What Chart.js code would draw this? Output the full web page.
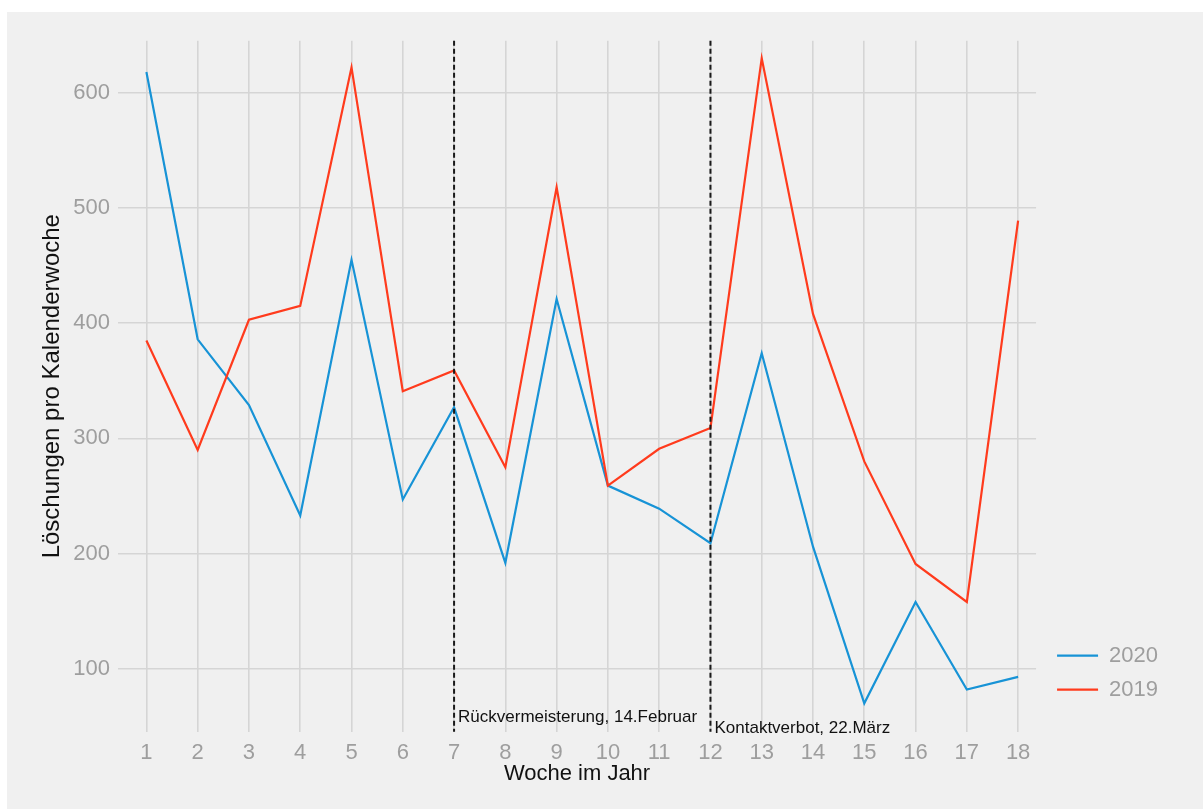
<!DOCTYPE html>
<html>
<head>
<meta charset="utf-8">
<script src="https://cdn.jsdelivr.net/npm/chart.js@4.4.1/dist/chart.umd.min.js"></script>
<style>
  html, body { margin: 0; padding: 0; background: #fff; }
  #panel { position: absolute; left: 7px; top: 12px; width: 1196px; height: 797px; background: #f0f0f0; }
  canvas { display: block; }
</style>
</head>
<body>
<div id="panel"><canvas id="chart" width="1196" height="797"></canvas></div>
<script>
// ── data ──────────────────────────────────────────────
const weeks = [1, 2, 3, 4, 5, 6, 7, 8, 9, 10, 11, 12, 13, 14, 15, 16, 17, 18];
const deletions2020 = [618, 386, 329, 233, 455, 247, 327, 192, 421, 259, 239, 209, 374, 206, 70, 158, 82, 93];
const deletions2019 = [385, 290, 403, 415, 622, 341, 359, 275, 518, 259, 291, 309, 630, 408, 280, 191, 158, 489];
const yTicks = [100, 200, 300, 400, 500, 600];

const markerWeeks = [7, 12];
const markerLabels = ["Rückvermeisterung, 14.Februar", "Kontaktverbot, 22.März"];
const markerLabelY = [54, 44];

const FONT = "'Liberation Sans', Arial, sans-serif";
const TICK_GREY = "#9e9e9e";
const GRID = "#d5d5d5";

// dashed event markers + their captions
const markerPlugin = {
  id: "markers",
  afterDatasetsDraw(chart) {
    const { ctx, chartArea, scales } = chart;
    ctx.save();
    ctx.strokeStyle = "#1a1a1a";
    ctx.lineWidth = 2;
    ctx.setLineDash([5, 3]);
    markerWeeks.forEach((w) => {
      const x = scales.x.getPixelForValue(w);
      ctx.beginPath();
      ctx.moveTo(x, chartArea.top);
      ctx.lineTo(x, chartArea.bottom);
      ctx.stroke();
    });
    ctx.setLineDash([]);
    ctx.fillStyle = "#111";
    ctx.font = "17px " + FONT;
    ctx.textAlign = "left";
    ctx.textBaseline = "alphabetic";
    markerWeeks.forEach((w, i) => {
      const x = scales.x.getPixelForValue(w) + 4;
      const y = scales.y.getPixelForValue(markerLabelY[i]);
      ctx.fillText(markerLabels[i], x, y);
    });
    ctx.restore();
  },
};

// push legend next to the panel, near its bottom (like ggplot)
const legendNudge = {
  id: "legendNudge",
  afterLayout(chart) {
    const lg = chart.legend;
    const dx = chart.chartArea.right + 9 - lg.left;
    lg.left += dx; lg.right += dx;
    lg.top -= 19; lg.bottom -= 19;
  },
};

new Chart(document.getElementById("chart"), {
  type: "line",
  data: {
    labels: weeks,
    datasets: [
      {
        label: "2020",
        data: deletions2020,
        borderColor: "#1793d6",
        backgroundColor: "#1793d6",
        borderWidth: 2.2,
        pointRadius: 0,
        tension: 0,
        order: 1,
      },
      {
        label: "2019",
        data: deletions2019,
        borderColor: "#ff3b1d",
        backgroundColor: "#ff3b1d",
        borderWidth: 2.2,
        pointRadius: 0,
        tension: 0,
        order: 0,
      },
    ],
  },
  options: {
    responsive: false,
    animation: false,
    devicePixelRatio: 1,
    layout: { padding: { top: 28.7, left: 0, right: 44, bottom: 0 } },
    plugins: {
      tooltip: { enabled: false },
      legend: {
        position: "right",
        align: "end",
        fullSize: false,
        labels: {
          usePointStyle: true,
          pointStyle: "line",
          pointStyleWidth: 41,
          padding: 12,
          color: TICK_GREY,
          font: { family: FONT, size: 22 },
          sort: (a, b) => a.datasetIndex - b.datasetIndex,
        },
      },
    },
    scales: {
      x: {
        type: "linear",
        min: 0.446,
        max: 18.35,
        afterBuildTicks: (scale) => { scale.ticks = weeks.map((v) => ({ value: v })); },
        afterFit: (scale) => { scale.height = 77.3; },
        border: { display: false },
        grid: { color: GRID, lineWidth: 1.6, drawTicks: false },
        ticks: {
          padding: 8,
          color: TICK_GREY,
          font: { family: FONT, size: 22 },
          maxRotation: 0,
          autoSkip: false,
        },
        title: {
          display: true,
          text: "Woche im Jahr",
          color: "#111",
          font: { family: FONT, size: 22 },
          padding: { top: 0, bottom: 22 },
        },
      },
      y: {
        min: 45.4,
        max: 645.2,
        afterBuildTicks: (scale) => { scale.ticks = yTicks.map((v) => ({ value: v })); },
        afterFit: (scale) => { scale.width = 111; },
        border: { display: false },
        grid: { color: GRID, lineWidth: 1.6, drawTicks: false },
        ticks: {
          padding: 8,
          color: TICK_GREY,
          font: { family: FONT, size: 22 },
        },
        title: {
          display: true,
          text: "Löschungen pro Kalenderwoche",
          color: "#111",
          font: { family: FONT, size: 24 },
          padding: { top: 31, bottom: 0 },
        },
      },
    },
  },
  plugins: [markerPlugin, legendNudge],
});
</script>
</body>
</html>
